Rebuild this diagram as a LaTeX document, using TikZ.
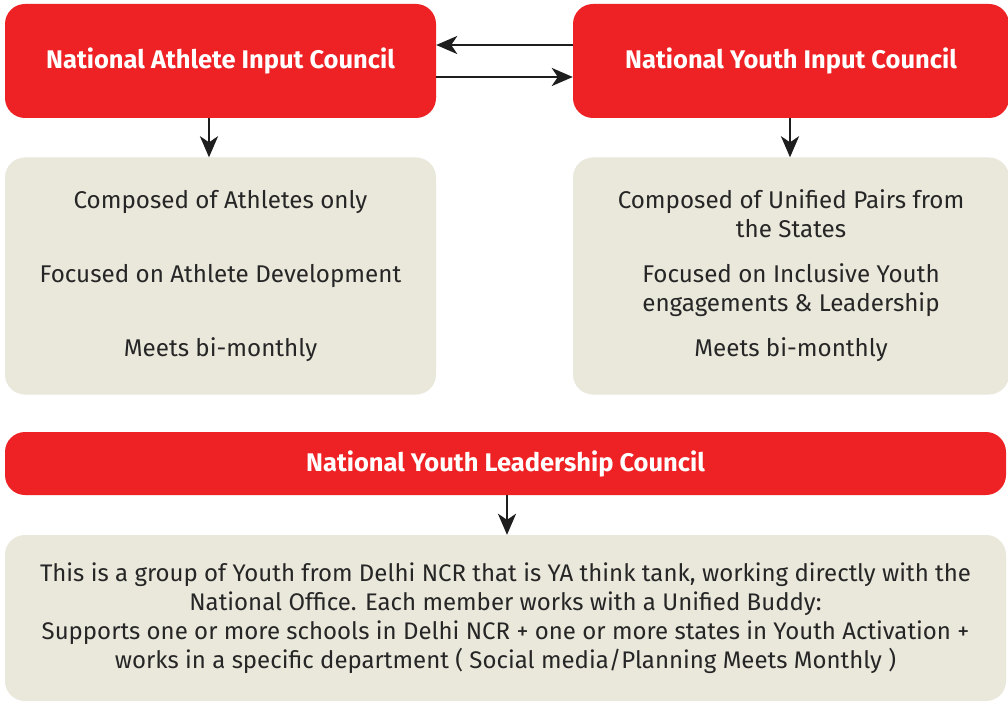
\documentclass[tikz,border=0pt]{standalone}
\usepackage{fontspec}
\setmainfont{Fira Sans}
\usetikzlibrary{arrows.meta,calc}
\definecolor{cred}{HTML}{EE2224}
\definecolor{cbeige}{HTML}{EAE7DB}
\definecolor{ctext}{HTML}{262626}
\definecolor{carrow}{HTML}{1E1E1E}
\tikzset{
  redbox/.style={fill=cred, draw=none, rounded corners=20pt, text=white,
    font=\fontsize{25.5}{30}\selectfont\bfseries, inner sep=0pt},
  beigebox/.style={fill=cbeige, draw=none, rounded corners=20pt, text=ctext,
    font=\fontsize{24.2}{29}\selectfont, align=center, inner sep=0pt},
  arr/.style={draw=carrow, line width=2.6pt,
    -{Stealth[length=21pt,width=18pt,inset=6pt]}}
}
\begin{document}
\begin{tikzpicture}[x=1pt,y=-1pt]
\useasboundingbox (0,0) rectangle (1008,703);
\fill[white] (0,0) rectangle (1008,703);
\node[redbox, minimum width=431pt, minimum height=114pt] (naic) at (220.5,61) {National Athlete Input Council};
\node[redbox, minimum width=436pt, minimum height=114pt] (nyic) at (791,61) {National Youth Input Council};
\node[beigebox, minimum width=431pt, minimum height=237pt] (lbody) at (220.5,276)
  {Composed of Athletes only\\[45pt]Focused on Athlete Development\\[45pt]Meets bi-monthly};
\node[beigebox, minimum width=436pt, minimum height=237pt] (rbody) at (791,276)
  {Composed of Unified Pairs from\\the States\\[16pt]Focused on Inclusive Youth\\engagements \& Leadership\\[16pt]Meets bi-monthly};
\node[redbox, minimum width=1001pt, minimum height=63pt] (nylc) at (505.5,463.5) {National Youth Leadership Council};
\node[beigebox, minimum width=1001pt, minimum height=166pt, font=\fontsize{24}{29}\selectfont] (bbody) at (505.5,618)
  {This is a group of Youth from Delhi NCR that is YA think tank, working directly with the\\
   National Office. Each member works with a Unified Buddy:\\
   Supports one or more schools in Delhi NCR + one or more states in Youth Activation +\\
   works in a specific department ( Social media/Planning Meets Monthly )};
\coordinate (ytop) at (0,45);
\coordinate (ybot) at (0,77);
\coordinate (xl) at (209,0);
\coordinate (xr) at (790,0);
\coordinate (xb) at (507,0);
\draw[arr] (nyic.west |- ytop) -- (naic.east |- ytop);
\draw[arr] (naic.east |- ybot) -- (nyic.west |- ybot);
\draw[arr] (naic.south -| xl) -- (lbody.north -| xl);
\draw[arr] (nyic.south -| xr) -- (rbody.north -| xr);
\draw[arr] (nylc.south -| xb) -- (bbody.north -| xb);
\end{tikzpicture}
\end{document}
